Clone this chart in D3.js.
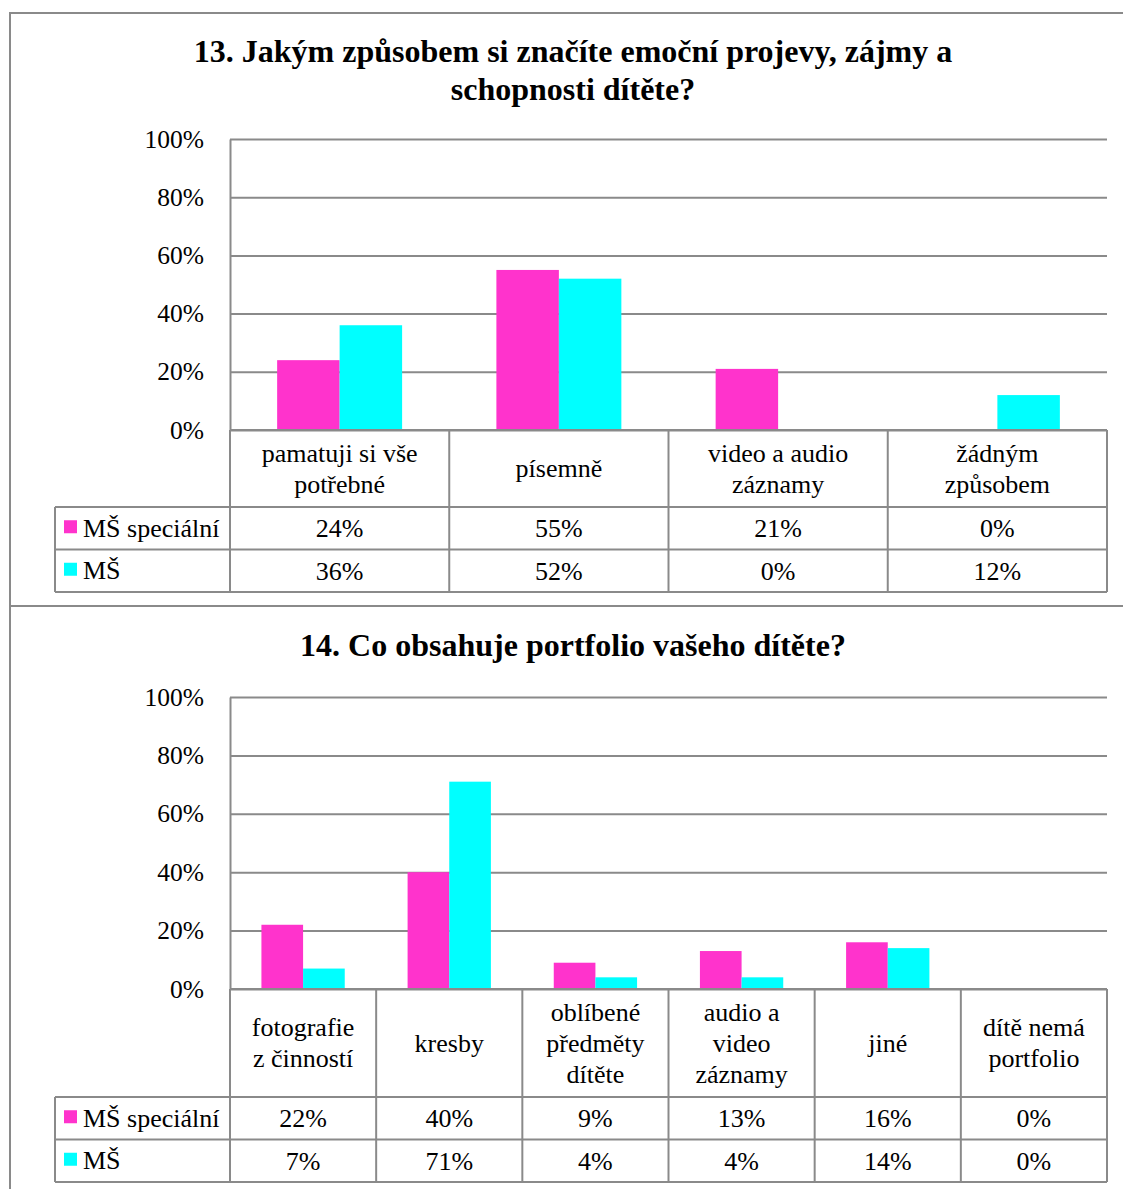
<!DOCTYPE html>
<html>
<head>
<meta charset="utf-8">
<script src="https://cdn.jsdelivr.net/npm/d3@7"></script>
<style>
  html, body { margin: 0; padding: 0; background: #fff; }
  svg text { font-family: "Liberation Serif", "Times New Roman", Times, serif; }
</style>
</head>
<body>
<svg id="page" width="1123" height="1189"></svg>
<script>
// Series names and colours shared by both charts
const seriesNames = ["MŠ speciální", "MŠ"];
const seriesColors = ["#FF33CC", "#00FFFF"];

// Value axis ticks
const tickValues = [0, 0.2, 0.4, 0.6, 0.8, 1.0];
const tickLabels = ["0%", "20%", "40%", "60%", "80%", "100%"];

// Question 13
const title13 = ["13. Jakým způsobem si značíte emoční projevy, zájmy a", "schopnosti dítěte?"];
const categories13 = ["pamatuji si vše\npotřebné", "písemně", "video a audio\nzáznamy", "žádným\nzpůsobem"];
const special13 = [0.24, 0.55, 0.21, 0.00];
const regular13 = [0.36, 0.52, 0.00, 0.12];

// Question 14
const title14 = ["14. Co obsahuje portfolio vašeho dítěte?"];
const categories14 = ["fotografie\nz činností", "kresby", "oblíbené\npředměty\ndítěte", "audio a\nvideo\nzáznamy", "jiné", "dítě nemá\nportfolio"];
const special14 = [0.22, 0.40, 0.09, 0.13, 0.16, 0.00];
const regular14 = [0.07, 0.71, 0.04, 0.04, 0.14, 0.00];

const svg = d3.select("#page");
const lineColor = "#8a8a8a";
const bodySize = 26;
const pct = v => Math.round(v * 100) + "%";

// Outer frames around each chart
svg.append("rect").attr("x", 10).attr("y", 13).attr("width", 1130).attr("height", 593)
  .attr("fill", "none").attr("stroke", lineColor).attr("stroke-width", 2);
svg.append("rect").attr("x", 10).attr("y", 606).attr("width", 1130).attr("height", 600)
  .attr("fill", "none").attr("stroke", lineColor).attr("stroke-width", 2);

function drawChart(cfg) {
  const g = svg.append("g");
  const left = 230, right = 1107, tableLeft = 55;
  const series = [cfg.special, cfg.regular];

  // Title
  g.append("text")
    .attr("x", 573).attr("y", cfg.titleY)
    .attr("text-anchor", "middle")
    .attr("font-size", 32).attr("font-weight", "bold")
    .selectAll("tspan").data(cfg.title).join("tspan")
    .attr("x", 573).attr("dy", (d, i) => i === 0 ? 0 : 38)
    .text(d => d);

  const y = d3.scaleLinear().domain([0, 1]).range([cfg.y0, cfg.y100]);
  const x0 = d3.scaleBand().domain(cfg.categories).range([left, right]).padding(0);
  const bw = x0.bandwidth();
  const gap = bw * 0.215;
  const x1 = d3.scaleBand().domain(seriesNames).range([gap, bw - gap]).padding(0);

  // Gridlines and value labels
  const axis = d3.axisLeft(y)
    .tickValues(tickValues)
    .tickFormat((d, i) => tickLabels[i])
    .tickSizeInner(-(right - left))
    .tickSizeOuter(0)
    .tickPadding(26);
  const ax = g.append("g").attr("transform", `translate(${left},0)`).call(axis);
  ax.attr("font-family", null);
  ax.select(".domain").attr("stroke", lineColor).attr("stroke-width", 2);
  ax.selectAll(".tick line").attr("stroke", lineColor).attr("stroke-width", 2);
  ax.selectAll(".tick text").attr("font-size", 25.5).attr("fill", "#000");

  // Bars
  seriesNames.forEach((name, si) => {
    g.append("g").selectAll("rect")
      .data(cfg.categories.map((c, i) => ({ c, v: series[si][i] })))
      .join("rect")
      .attr("x", d => x0(d.c) + x1(name))
      .attr("y", d => y(d.v))
      .attr("width", x1.bandwidth())
      .attr("height", d => y(0) - y(d.v))
      .attr("fill", seriesColors[si]);
  });

  // Data table under the plot
  const hdrBottom = cfg.y0 + cfg.headerH;
  const rowH = cfg.rowH;
  const tableBottom = hdrBottom + rowH * 2;
  const tl = g.append("g").attr("stroke", lineColor).attr("stroke-width", 2);
  tl.append("line").attr("x1", left).attr("x2", right).attr("y1", cfg.y0).attr("y2", cfg.y0);
  [hdrBottom, hdrBottom + rowH, tableBottom].forEach(yy =>
    tl.append("line").attr("x1", tableLeft).attr("x2", right).attr("y1", yy).attr("y2", yy));
  tl.append("line").attr("x1", tableLeft).attr("x2", tableLeft).attr("y1", hdrBottom).attr("y2", tableBottom);
  cfg.categories.forEach(c => {
    const xx = x0(c);
    tl.append("line").attr("x1", xx).attr("x2", xx).attr("y1", cfg.y0).attr("y2", tableBottom);
  });
  tl.append("line").attr("x1", right).attr("x2", right).attr("y1", cfg.y0).attr("y2", tableBottom);

  // Category headers
  const hdrMid = (cfg.y0 + hdrBottom) / 2;
  cfg.categories.forEach(c => {
    const lines = c.split("\n");
    const cx = x0(c) + bw / 2;
    const t = g.append("text").attr("text-anchor", "middle").attr("font-size", bodySize).attr("fill", "#000");
    lines.forEach((ln, i) => {
      t.append("tspan").attr("x", cx)
        .attr("y", hdrMid - (lines.length - 1) * 31 / 2 + i * 31 + 8.5)
        .text(ln);
    });
  });

  // Legend keys and values
  seriesNames.forEach((name, si) => {
    const rowMid = hdrBottom + rowH * si + rowH / 2;
    g.append("rect").attr("x", 64).attr("y", rowMid - 8).attr("width", 13).attr("height", 13)
      .attr("fill", seriesColors[si]);
    g.append("text").attr("x", 83).attr("y", rowMid + 8.5).attr("font-size", bodySize).attr("fill", "#000").text(name);
    cfg.categories.forEach((c, i) => {
      g.append("text").attr("x", x0(c) + bw / 2).attr("y", rowMid + 9)
        .attr("text-anchor", "middle").attr("font-size", bodySize).attr("fill", "#000")
        .text(pct(series[si][i]));
    });
  });
}

drawChart({
  title: title13, titleY: 62, categories: categories13,
  special: special13, regular: regular13,
  y0: 430, y100: 139, headerH: 77, rowH: 42.5
});

drawChart({
  title: title14, titleY: 656, categories: categories14,
  special: special14, regular: regular14,
  y0: 989, y100: 697, headerH: 108, rowH: 42.5
});
</script>
</body>
</html>
